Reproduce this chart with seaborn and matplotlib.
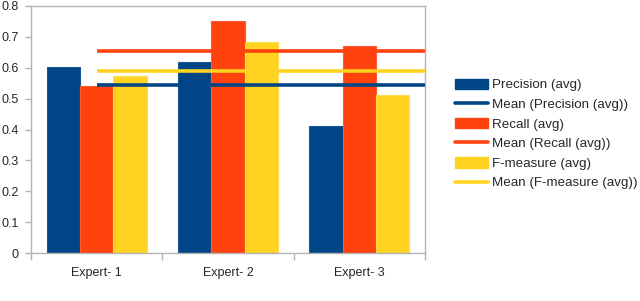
import numpy as np
import pandas as pd
import matplotlib
matplotlib.use("Agg")
import matplotlib.pyplot as plt
import seaborn as sns
from matplotlib.patches import Patch
from matplotlib.lines import Line2D

categories = ["Expert- 1", "Expert- 2", "Expert- 3"]
precision = [0.602, 0.620, 0.412]
recall = [0.540, 0.752, 0.672]
fmeasure = [0.572, 0.683, 0.511]
series_names = ["Precision (avg)", "Recall (avg)", "F-measure (avg)"]
mean_names = ["Mean (Precision (avg))", "Mean (Recall (avg))", "Mean (F-measure (avg))"]
yticks = [0, 0.1, 0.2, 0.3, 0.4, 0.5, 0.6, 0.7, 0.8]
ytick_labels = ["0", "0.1", "0.2", "0.3", "0.4", "0.5", "0.6", "0.7", "0.8"]

colors = ["#004586", "#ff420e", "#ffd320"]
edge_colors = ["#1a5a96", "#ff5a2e", "#ffdc50"]

sns.set_style("white")
plt.rcParams["font.family"] = ["Liberation Sans", "DejaVu Sans"]

rows = []
for name, vals in zip(series_names, [precision, recall, fmeasure]):
    for c, v in zip(categories, vals):
        rows.append({"category": c, "series": name, "value": v})
df = pd.DataFrame(rows)

fig = plt.figure(figsize=(6.4, 3.01), dpi=100)
ax = fig.add_axes([31 / 640, 1 - 253 / 301, (425 - 31) / 640, (253 - 6) / 301])

sns.barplot(data=df, x="category", y="value", hue="series", order=categories,
            hue_order=series_names, palette=colors, width=0.76, ax=ax,
            legend=False, saturation=1, errorbar=None, linewidth=0.8)
for i, container in enumerate(ax.containers):
    for p in container:
        p.set_edgecolor(edge_colors[i])

means = [np.mean(precision), np.mean(recall), np.mean(fmeasure)]
for m, col in zip(means, colors):
    ax.hlines(m, 0, 2.5, color=col, linewidth=2.6, zorder=5)

ax.set_xlim(-0.5, 2.5)
ax.set_ylim(0, 0.8)
ax.set_yticks(yticks)
ax.set_yticklabels(ytick_labels)
ax.set_xticks([0, 1, 2])
ax.set_xticks([-0.5, 0.5, 1.5, 2.5], minor=True)
ax.tick_params(axis="x", which="major", length=0, pad=10, labelsize=9)
ax.tick_params(axis="x", which="minor", length=5, color="#b3b3b3", width=1, direction="out", bottom=True)
ax.tick_params(axis="y", length=4, color="#b3b3b3", width=1, direction="out", left=True, labelsize=9, pad=5)
ax.set_xlabel("")
ax.set_ylabel("")
for s in ax.spines.values():
    s.set_color("#b3b3b3")
    s.set_linewidth(1)
ax.grid(False)

handles = []
labels = []
for name, mname, col in zip(series_names, mean_names, colors):
    handles.append(Patch(facecolor=col, edgecolor=col))
    labels.append(name)
    handles.append(Line2D([0], [0], color=col, linewidth=2.6))
    labels.append(mname)
fig.legend(handles, labels, loc="center left", bbox_to_anchor=(455 / 640, 1 - 134 / 301),
           frameon=False, fontsize=9.6, handlelength=2.5, handleheight=0.85,
           handletextpad=0.25, labelspacing=0.5, borderaxespad=0, borderpad=0)

fig.savefig("out.png", dpi=100)
